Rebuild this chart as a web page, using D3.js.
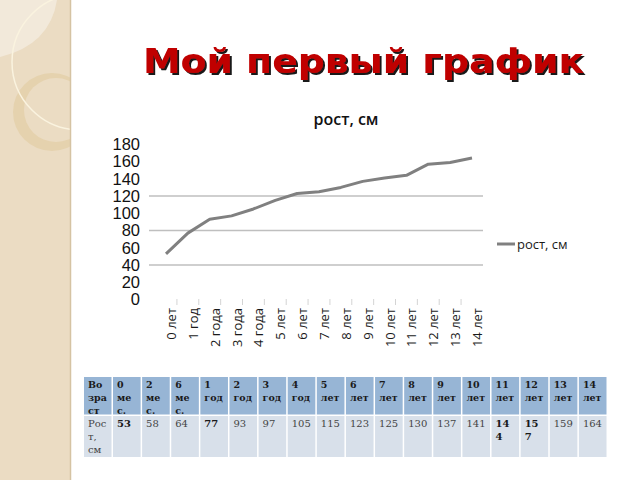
<!DOCTYPE html>
<html><head><meta charset="utf-8">
<script src="https://cdn.jsdelivr.net/npm/d3@7"></script>
<style>html,body{margin:0;padding:0;background:#fff;}svg{display:block;}</style>
</head><body>
<svg id="c" width="640" height="480"></svg>
<script>
// ---- data ----
const categories = ["0 лет","1 год","2 года","3 года","4 года","5 лет","6 лет","7 лет","8 лет","9 лет","10 лет","11 лет","12 лет","13 лет","14 лет"];
const heights = [53,77,93,97,105,115,123,125,130,137,141,144,157,159,164];
const yTicks = [0,20,40,60,80,100,120,140,160,180];
const gridValues = [40,80,120];
const seriesName = "рост, см";
const titleText = "Мой первый график";
const tableAges = ["0 мес.","2 мес.","6 мес.","1 год","2 год","3 год","4 год","5 лет","6 лет","7 лет","8 лет","9 лет","10 лет","11 лет","12 лет","13 лет","14 лет"];
const tableHeights = [53,58,64,77,93,97,105,115,123,125,130,137,141,144,157,159,164];
const tableBold = [true,false,false,true,false,false,false,false,false,false,false,false,false,true,true,false,false];

const svg = d3.select("#c");
const defs = svg.append("defs");
const f = defs.append("filter").attr("id","shadow").attr("x","-5%").attr("y","-20%").attr("width","110%").attr("height","140%");
f.append("feDropShadow").attr("dx",2).attr("dy",2).attr("stdDeviation",0.6).attr("flood-color","#000").attr("flood-opacity",0.9);

// ---- decorative side panel ----
svg.append("rect").attr("x",0).attr("y",0).attr("width",70).attr("height",480).attr("fill","#EBDCC3");
defs.append("clipPath").attr("id","pclip").append("rect").attr("x",0).attr("y",0).attr("width",70).attr("height",480);
const deco = svg.append("g").attr("clip-path","url(#pclip)");
deco.append("path").attr("d","M0,0 L57,0 Q50,45 0,57 Z").attr("fill","#F2E9DA");
deco.append("circle").attr("cx",52).attr("cy",112).attr("r",39).attr("fill","#E5D2AE");
deco.append("circle").attr("cx",56).attr("cy",110).attr("r",32).attr("fill","#EBDCC3");
deco.append("circle").attr("cx",80).attr("cy",62).attr("r",68).attr("fill","none").attr("stroke","#FAF3DF").attr("stroke-width",1.5);
svg.append("line").attr("x1",70.5).attr("x2",70.5).attr("y1",0).attr("y2",480).attr("stroke","#D5C3A3").attr("stroke-width",1.5);

// ---- slide title ----
svg.append("text").attr("x",143).attr("y",73)
  .attr("font-family","'DejaVu Sans',sans-serif").attr("font-weight","bold").attr("font-size",33)
  .attr("textLength",441).attr("lengthAdjust","spacingAndGlyphs")
  .attr("fill","#C00000").attr("filter","url(#shadow)").text(titleText);

// ---- chart ----
const x = d3.scalePoint().domain(categories).range([166,472]);
const y = d3.scaleLinear().domain([0,180]).range([299.5,144.3]);
const step = x.step();

svg.append("text").attr("x",346).attr("y",125).attr("text-anchor","middle")
  .attr("font-family","'Open Sans',sans-serif").attr("font-weight","600").attr("font-size",16)
  .attr("fill","#111").text(seriesName);

svg.append("g").selectAll("line").data(gridValues).join("line")
  .attr("x1",149).attr("x2",483).attr("y1",d=>y(d)).attr("y2",d=>y(d))
  .attr("stroke","#BFBFBF").attr("stroke-width",1.5);

const yAxis = svg.append("g").attr("transform","translate(149,0)")
  .call(d3.axisLeft(y).tickValues(yTicks).tickSize(0).tickPadding(9));
yAxis.select(".domain").remove();
yAxis.selectAll("text").attr("font-family","'Liberation Sans',Arial,sans-serif").attr("font-size",16.5).attr("fill","#111");

svg.append("g").selectAll("line").data(categories.slice(0,-1)).join("line")
  .attr("x1",d=>x(d)+step/2).attr("x2",d=>x(d)+step/2).attr("y1",299).attr("y2",305)
  .attr("stroke","#D4D4D4").attr("stroke-width",1);

const xAxis = svg.append("g").attr("transform","translate(0,300)")
  .call(d3.axisBottom(x).tickSize(0).tickPadding(0));
xAxis.select(".domain").remove();
xAxis.selectAll("text")
  .attr("transform","translate(5,8) rotate(-90)")
  .attr("text-anchor","end").attr("dy","0.35em").attr("y",0).attr("x",0)
  .attr("font-family","'Open Sans',sans-serif").attr("font-size",13).attr("fill","#1a1a1a");

const line = d3.line().x((d,i)=>x(categories[i])).y(d=>y(d));
svg.append("path").datum(heights).attr("d",line).attr("fill","none")
  .attr("stroke","#808080").attr("stroke-width",3).attr("stroke-linejoin","round");

// legend
svg.append("line").attr("x1",497).attr("x2",515).attr("y1",244).attr("y2",244).attr("stroke","#808080").attr("stroke-width",3);
svg.append("text").attr("x",517).attr("y",249).attr("font-family","'Open Sans',sans-serif").attr("font-size",13).attr("fill","#1a1a1a").text(seriesName);

// ---- table ----
const tX0 = 84, firstW = 29, colW = (608-113)/tableAges.length;
const tY0 = 377, hH = 39, bH = 41;
const tbl = svg.append("g");
const colX = i => i===0 ? tX0 : 113 + (i-1)*colW;
const colWidth = i => i===0 ? firstW : colW;
const nCols = tableAges.length + 1;
for (let i=0;i<nCols;i++){
  tbl.append("rect").attr("x",colX(i)).attr("y",tY0).attr("width",colWidth(i)-1.5).attr("height",hH-1.5).attr("fill","#97B5D5");
  tbl.append("rect").attr("x",colX(i)).attr("y",tY0+hH).attr("width",colWidth(i)-1.5).attr("height",bH).attr("fill","#D8E0EA");
  const head = i===0 ? ["Во","зра","ст"] : (tableAges[i-1].includes("мес") ? [tableAges[i-1].split(" ")[0],"ме","с."] : tableAges[i-1].split(" "));
  head.forEach((t,j)=>{
    tbl.append("text").attr("x",colX(i)+4).attr("y",388+j*13)
      .attr("font-family","'DejaVu Serif',serif").attr("font-weight","bold").attr("font-size",9.5)
      .attr("fill","#1a1a1a").text(t);
  });
  let body, bold=false;
  if (i===0) body = ["Рос","т,","см"];
  else {
    const v = String(tableHeights[i-1]); bold = tableBold[i-1];
    body = (bold && v.length>2) ? [v.slice(0,2), v.slice(2)] : [v];
  }
  body.forEach((t,j)=>{
    tbl.append("text").attr("x",colX(i)+4).attr("y",427+j*13)
      .attr("font-family","'DejaVu Serif',serif").attr("font-weight",bold?"bold":"normal").attr("font-size",10)
      .attr("fill",bold?"#1a1a1a":"#444").text(t);
  });
}
</script>
</body></html>
